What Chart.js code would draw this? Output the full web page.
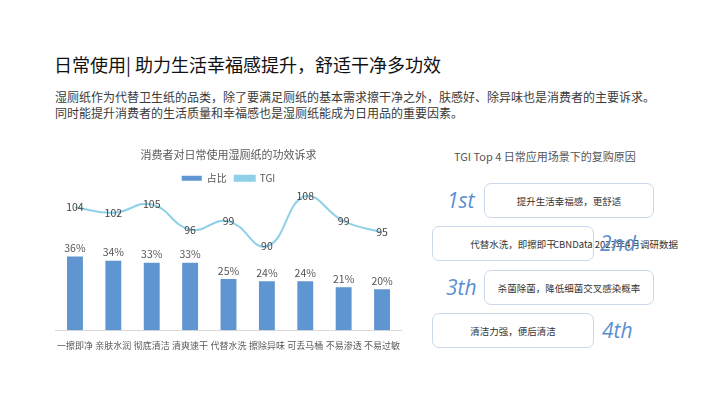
<!DOCTYPE html>
<html lang="zh">
<head>
<meta charset="utf-8"/>
<title>日常使用</title>
<script src="https://cdn.jsdelivr.net/npm/chart.js"></script>
<style>
  body { margin:0; width:710px; height:399px; background:#fff; position:relative; overflow:hidden;
         font-family:"Noto Sans CJK SC","Noto Sans",sans-serif; }
  .title { position:absolute; left:54px; top:51px; font-size:18px; color:#111; }
  .desc { position:absolute; left:55px; top:89px; font-size:12px; line-height:16px; color:#3a3a3a; }
  #wrap { position:absolute; left:55px; top:144px; width:347px; height:209px; }
  .rtitle { position:absolute; left:454px; top:148px; font-size:11px; color:#555; }
  .box { position:absolute; width:170px; height:35px; border:1px solid #c9d8ec; border-radius:7px;
         font-size:9.5px; color:#333; line-height:34px; text-align:center; box-sizing:border-box; }
  .rank { position:absolute; font-size:21px; font-style:italic; color:#5b8fcf; font-family:"Open Sans",sans-serif; }
  .src { position:absolute; left:553px; top:237px; font-size:9.5px; color:#333; }
</style>
</head>
<body>
<div class="title">日常使用| 助力生活幸福感提升，舒适干净多功效</div>
<div class="desc">湿厕纸作为代替卫生纸的品类，除了要满足厕纸的基本需求擦干净之外，肤感好、除异味也是消费者的主要诉求。<br>同时能提升消费者的生活质量和幸福感也是湿厕纸能成为日用品的重要因素。</div>
<div id="wrap"><canvas id="c"></canvas></div>

<div class="rtitle">TGI Top 4 日常应用场景下的复购原因</div>
<div class="rank" style="left:447px;top:186px;">1st</div>
<div class="box" style="left:484px;top:183px;">提升生活幸福感，更舒适</div>
<div class="box" style="left:432px;top:226px;width:162px;">代替水洗，即擦即干</div>
<div class="src">CBNData 2023年4月调研数据</div>
<div class="rank" style="left:600px;top:229px;">2nd</div>
<div class="rank" style="left:446px;top:273px;">3th</div>
<div class="box" style="left:484px;top:270px;">杀菌除菌，降低细菌交叉感染概率</div>
<div class="box" style="left:432px;top:313px;width:162px;">清洁力强，便后清洁</div>
<div class="rank" style="left:602px;top:316px;">4th</div>

<script>
const categories = ['一擦即净','亲肤水润','彻底清洁','清爽速干','代替水洗','擦除异味','可丢马桶','不易渗透','不易过敏'];
const shareValues = [36, 34, 33, 33, 25, 24, 24, 21, 20];
const tgiValues = [104, 102, 105, 96, 99, 90, 108, 99, 95];

const labelPlugin = {
  id: 'labels',
  afterDatasetsDraw(chart) {
    const ctx = chart.ctx;
    ctx.save();
    ctx.textAlign = 'center';
    chart.data.datasets.forEach((ds, i) => {
      const meta = chart.getDatasetMeta(i);
      meta.data.forEach((el, j) => {
        ctx.font = '10.5px "Noto Sans CJK SC", sans-serif';
        if (ds.type === 'line') {
          ctx.fillStyle = '#444';
          ctx.textBaseline = 'middle';
          ctx.fillText(ds.data[j], el.x, el.y);
        } else {
          ctx.fillStyle = '#555';
          ctx.textBaseline = 'bottom';
          ctx.fillText(ds.data[j] + '%', el.x, el.y - 3);
        }
      });
    });
    ctx.restore();
  }
};

new Chart(document.getElementById('c'), {
  data: {
    labels: categories,
    datasets: [
      { type: 'bar', label: '占比', data: shareValues, backgroundColor: '#5f95d0',
        yAxisID: 'y', barPercentage: 0.45, categoryPercentage: 0.92, order: 2 },
      { type: 'line', label: 'TGI', data: tgiValues, borderColor: '#8fd0e8', backgroundColor: '#8fd0e8',
        borderWidth: 2, tension: 0.45, pointRadius: 0, yAxisID: 'y2', order: 1, pointStyle: 'line', clip: false }
    ]
  },
  options: {
    responsive: true, maintainAspectRatio: false, animation: false,
    plugins: {
      title: { display: true, text: '消费者对日常使用湿厕纸的功效诉求', color: '#595959',
               font: { size: 11, family: '"Noto Sans CJK SC", sans-serif', weight: 'normal' }, padding: { top: 4, bottom: 4 } },
      legend: { labels: { color: '#595959', boxWidth: 20, boxHeight: 5, padding: 8,
                sort: (a, b) => a.datasetIndex - b.datasetIndex,
                font: { size: 10, family: '"Noto Sans CJK SC", sans-serif' } } },
      tooltip: { enabled: false }
    },
    scales: {
      x: { grid: { display: false }, border: { color: '#d9d9d9' },
           ticks: { color: '#595959', autoSkip: false, maxRotation: 0, padding: 2,
                    font: { size: 9, family: '"Noto Sans CJK SC", sans-serif' } } },
      y: { display: false, min: 0, max: 67 },
      y2: { display: false, min: 60, max: 109 }
    }
  },
  plugins: [labelPlugin]
});
</script>
</body>
</html>
